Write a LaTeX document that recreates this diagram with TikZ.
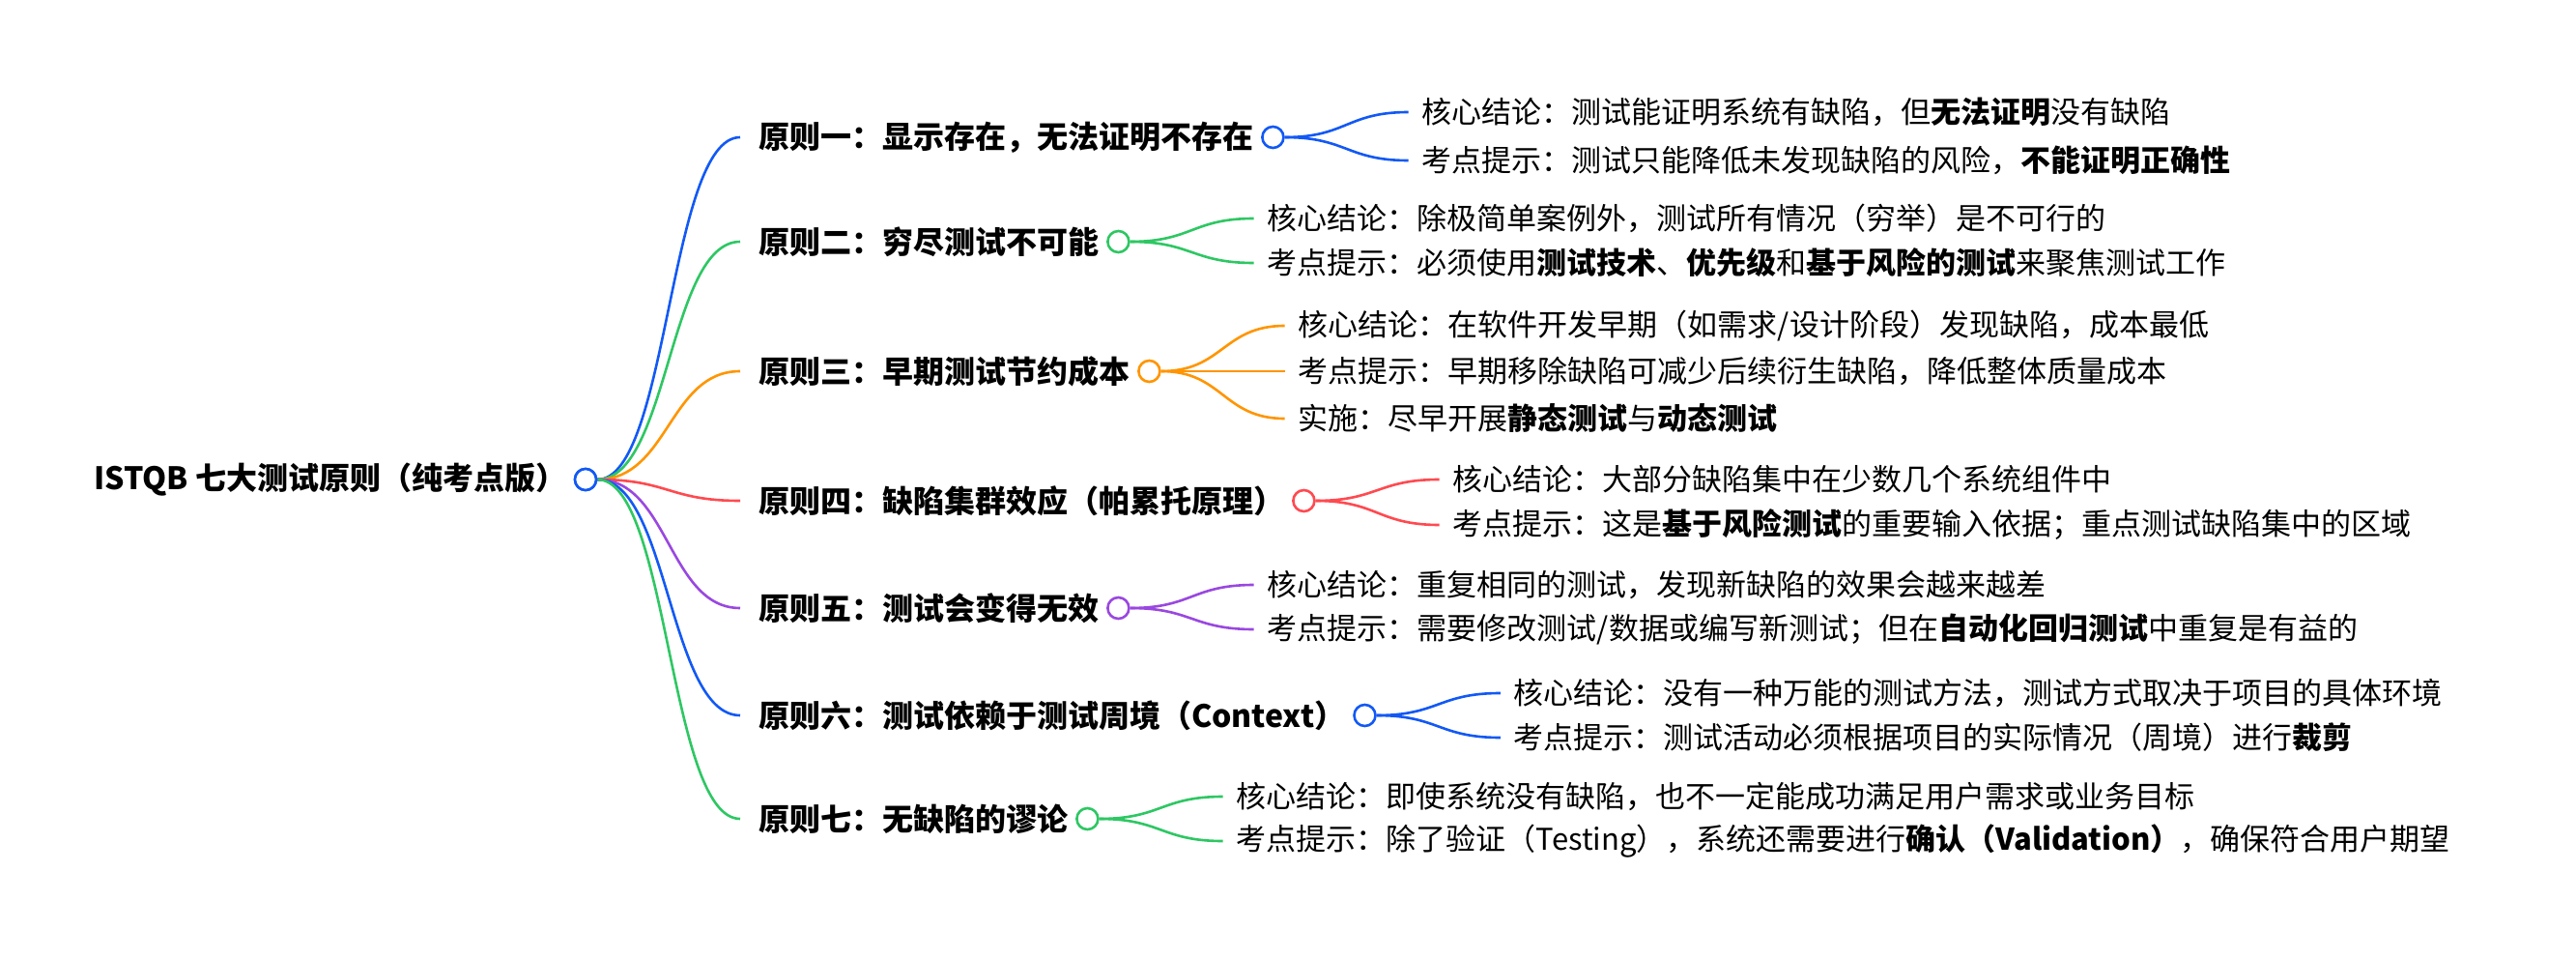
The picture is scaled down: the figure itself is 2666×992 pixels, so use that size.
\documentclass[tikz,border=0pt]{standalone}
\usepackage{fontspec}
\setmainfont{Noto Sans CJK SC}
\usetikzlibrary{calc}
\begin{document}
\begin{tikzpicture}[x=1pt,y=-1pt,
  txt/.style={anchor=west,inner sep=0pt,font=\fontsize{31}{36}\selectfont},
  btxt/.style={txt,font=\fontsize{32}{38}\selectfont\bfseries},
  dot/.style={circle,draw=#1,fill=white,line width=2.6pt,minimum size=22pt,inner sep=0pt},
  edge/.style={draw=#1,line width=2.6pt}]
\useasboundingbox (0,0) rectangle (2666,992);
\definecolor{cb}{HTML}{1259F5}
\definecolor{cg}{HTML}{2EC763}
\definecolor{co}{HTML}{FF9500}
\definecolor{cr}{HTML}{FF4A50}
\definecolor{cp}{HTML}{9A48E0}
\node[btxt] (root) at (97,496) {ISTQB 七大测试原则（纯考点版）};
\node[dot=cb] (rc) at (606,496) {};
\newcommand\brn[5]{% name, color, y, text
  \node[btxt] (#1) at (785,#3) {#4};
  \node[dot=#2] (#1c) at ($(#1.east)+(20,0)$) {};
  \draw[edge=#2] (rc.east) .. controls (692,496) and (692,#3) .. (766,#3);
}
\newcommand\leaf[6]{% parent, color, dy, y(unused), text, name
  \coordinate (#6e) at ($(#1c.east)+(128,#3)$);
  \node[txt] (#6) at ($(#6e)+(14,0)$) {#5};
  \draw[edge=#2] (#1c.east) .. controls ($(#1c.east)+(64,0)$) and ($(#6e)+(-64,0)$) .. (#6e);
}
\brn{b1}{cb}{142}{原则一：显示存在，无法证明不存在}{}
\leaf{b1}{cb}{-26}{}{核心结论：测试能证明系统有缺陷，但\textbf{无法证明}没有缺陷}{l11}
\leaf{b1}{cb}{24}{}{考点提示：测试只能降低未发现缺陷的风险，\textbf{不能证明正确性}}{l12}
\brn{b2}{cg}{250}{原则二：穷尽测试不可能}{}
\leaf{b2}{cg}{-24}{}{核心结论：除极简单案例外，测试所有情况（穷举）是不可行的}{l21}
\leaf{b2}{cg}{22}{}{考点提示：必须使用\textbf{测试技术}、\textbf{优先级}和\textbf{基于风险的测试}来聚焦测试工作}{l22}
\brn{b3}{co}{384}{原则三：早期测试节约成本}{}
\leaf{b3}{co}{-47}{}{核心结论：在软件开发早期（如需求/设计阶段）发现缺陷，成本最低}{l31}
\leaf{b3}{co}{0}{}{考点提示：早期移除缺陷可减少后续衍生缺陷，降低整体质量成本}{l32}
\leaf{b3}{co}{49}{}{实施：尽早开展\textbf{静态测试}与\textbf{动态测试}}{l33}
\brn{b4}{cr}{518}{原则四：缺陷集群效应（帕累托原理）}{}
\leaf{b4}{cr}{-22}{}{核心结论：大部分缺陷集中在少数几个系统组件中}{l41}
\leaf{b4}{cr}{25}{}{考点提示：这是\textbf{基于风险测试}的重要输入依据；重点测试缺陷集中的区域}{l42}
\brn{b5}{cp}{629}{原则五：测试会变得无效}{}
\leaf{b5}{cp}{-24}{}{核心结论：重复相同的测试，发现新缺陷的效果会越来越差}{l51}
\leaf{b5}{cp}{22}{}{考点提示：需要修改测试/数据或编写新测试；但在\textbf{自动化回归测试}中重复是有益的}{l52}
\brn{b6}{cb}{740}{原则六：测试依赖于测试周境（Context）}{}
\leaf{b6}{cb}{-23}{}{核心结论：没有一种万能的测试方法，测试方式取决于项目的具体环境}{l61}
\leaf{b6}{cb}{23}{}{考点提示：测试活动必须根据项目的实际情况（周境）进行\textbf{裁剪}}{l62}
\brn{b7}{cg}{847}{原则七：无缺陷的谬论}{}
\leaf{b7}{cg}{-23}{}{核心结论：即使系统没有缺陷，也不一定能成功满足用户需求或业务目标}{l71}
\leaf{b7}{cg}{23}{}{考点提示：除了验证（Testing），系统还需要进行\textbf{确认（Validation）}，确保符合用户期望}{l72}
\node[dot=cb] at (rc) {};
\end{tikzpicture}
\end{document}
